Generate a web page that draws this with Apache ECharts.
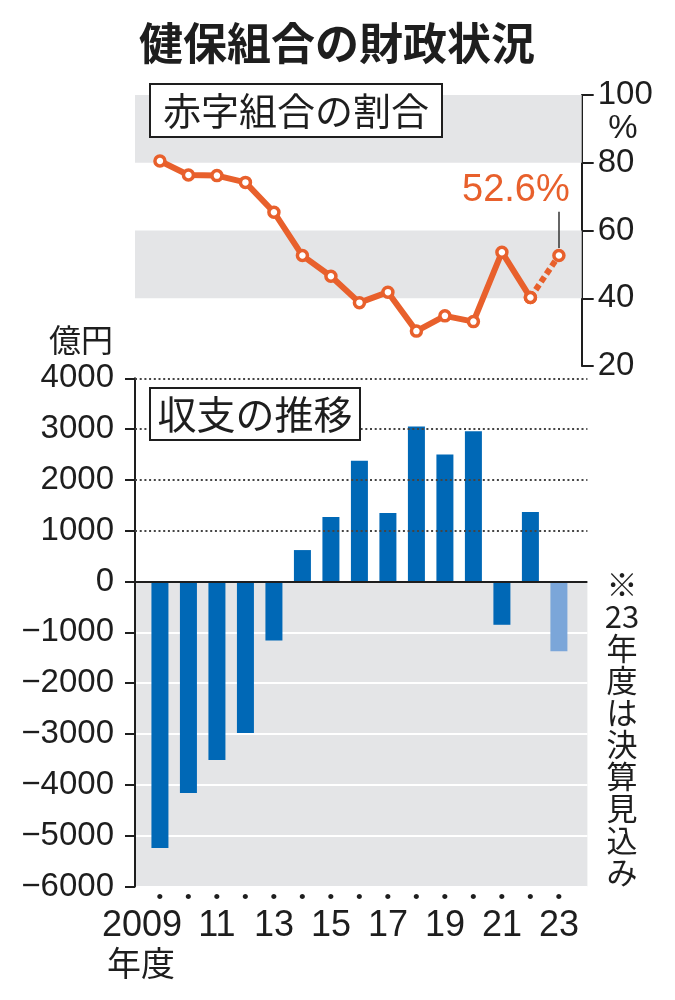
<!DOCTYPE html>
<html>
<head>
<meta charset="utf-8">
<script src="https://cdn.jsdelivr.net/npm/echarts@6/dist/echarts.min.js"></script>
<style>
html,body{margin:0;padding:0;background:#fff;}
#chart{width:675px;height:1000px;}
</style>
</head>
<body>
<div id="chart"></div>
<script>
// ---- data ----
const years = [2009, 2010, 2011, 2012, 2013, 2014, 2015, 2016, 2017, 2018, 2019, 2020, 2021, 2022, 2023];
const deficitShare = [80.5, 76.4, 76.2, 74.2, 65.4, 52.6, 46.5, 38.7, 41.8, 30.3, 34.8, 33.1, 53.6, 40.2, 52.6]; // %
const balance = [-5240, -4160, -3510, -2980, -1160, 620, 1270, 2380, 1350, 3050, 2500, 2960, -850, 1370, -1370]; // 億円
const estimateYears = [2023];
const labeledYears = [2009, 2011, 2013, 2015, 2017, 2019, 2021, 2023];
const shareBands = [[80, 100], [40, 60]];
const balanceDottedLines = [1000, 2000, 3000, 4000];

const FONT_NUM = '"Liberation Sans", Arial, sans-serif';
const FONT_JP = '"Noto Sans CJK JP", sans-serif';
const ORANGE = '#e8602c';
const BLUE = '#0068b6';
const LIGHTBLUE = '#7ba6d9';
const GRAY = '#e4e5e7';
const INK = '#1e1e1e';

const n = years.length;
const solidPts = years.slice(0, n - 1).map((y, i) => [y, deficitShare[i]]);
const dashPts = years.slice(n - 2).map((y, i) => [y, deficitShare[n - 2 + i]]);
const lastYear = years[n - 1], lastShare = deficitShare[n - 1];

const barData = years.map((y, i) => ({
  value: [y, balance[i]],
  itemStyle: { color: estimateYears.includes(y) ? LIGHTBLUE : BLUE }
}));

const chart = echarts.init(document.getElementById('chart'), null, { renderer: 'canvas' });

const option = {
  animation: false,
  backgroundColor: '#fff',
  grid: [
    { left: 135, right: 93.3, top: 95, height: 271 },
    { left: 135, right: 87.6, top: 378.3, height: 508.2 }
  ],
  xAxis: [
    { gridIndex: 0, type: 'value', min: 2008.125, max: 2023.8, show: false },
    {
      gridIndex: 1, type: 'value', min: 2008.125, max: 2024, interval: 0.125,
      axisLine: { show: false }, axisTick: { show: false }, splitLine: { show: false },
      axisLabel: {
        margin: 1,
        formatter: function (v) {
          const y = Math.round(v);
          if (Math.abs(v - y) > 1e-6 || !years.includes(y)) return '';
          if (!labeledYears.includes(y)) return '{d|•}';
          if (y === years[0]) return '{d|•}\n{f|' + y + '}';
          return '{d|•}\n{n|' + String(y % 100).padStart(2, '0') + '}';
        },
        rich: {
          d: { fontSize: 19, lineHeight: 21, color: INK, fontFamily: FONT_NUM },
          n: { fontSize: 36, lineHeight: 36, color: INK, fontFamily: FONT_NUM },
          f: { fontSize: 36, lineHeight: 36, color: INK, fontFamily: FONT_NUM, padding: [0, 36, 0, 0] }
        }
      }
    }
  ],
  yAxis: [
    {
      gridIndex: 0, type: 'value', position: 'right', min: 20, max: 100, interval: 20,
      axisLine: { show: true, lineStyle: { color: INK, width: 2 } },
      axisTick: { show: true, length: 12, lineStyle: { color: INK, width: 2 } },
      axisLabel: { margin: 16, fontSize: 33, color: INK, fontFamily: FONT_NUM },
      splitLine: { show: false }
    },
    {
      gridIndex: 1, type: 'value', position: 'left', min: -6000, max: 4000, interval: 1000,
      axisLine: { show: true, lineStyle: { color: INK, width: 2 } },
      axisTick: { show: true, length: 10, lineStyle: { color: INK, width: 2 } },
      axisLabel: {
        margin: 21, fontSize: 33, color: INK, fontFamily: FONT_NUM,
        formatter: v => String(v).replace('-', '\u2212')
      },
      splitLine: { show: true, lineStyle: { color: '#ffffff', width: 2 } },
      splitArea: { show: true, areaStyle: { color: [GRAY, GRAY, GRAY, GRAY, GRAY, GRAY, '#ffffff', '#ffffff', '#ffffff', '#ffffff'] } }
    }
  ],
  series: [
    // background bands (top)
    {
      type: 'line', xAxisIndex: 0, yAxisIndex: 0, z: 1, data: [], silent: true,
      markArea: {
        silent: true,
        itemStyle: { color: GRAY },
        data: shareBands.map(b => [{ yAxis: b[0] }, { yAxis: b[1] }])
      }
    },
    {
      name: 'share', type: 'line', xAxisIndex: 0, yAxisIndex: 0, z: 3,
      data: solidPts,
      lineStyle: { color: ORANGE, width: 6 },
      symbol: 'circle', symbolSize: 10,
      itemStyle: { color: '#fff', borderColor: ORANGE, borderWidth: 3.5 }
    },
    {
      name: 'shareEst', type: 'line', xAxisIndex: 0, yAxisIndex: 0, z: 3,
      data: dashPts.map((p, i) => i === dashPts.length - 1 ? {
        value: p,
        label: {
          show: true, position: 'top', offset: [-43, -34],
          formatter: pp => pp.value[1].toFixed(1) + '%',
          fontSize: 38, color: ORANGE, fontFamily: FONT_NUM
        }
      } : { value: p }),
      lineStyle: { color: ORANGE, width: 6, type: [6, 3.5] },
      symbol: 'circle', symbolSize: 10,
      itemStyle: { color: '#fff', borderColor: ORANGE, borderWidth: 3.5 },
      markLine: {
        silent: true, symbol: 'none', label: { show: false },
        lineStyle: { color: '#333', width: 1.5, type: 'solid' },
        data: [[{ coord: [lastYear, lastShare + 2.2] }, { coord: [lastYear, lastShare + 12.9] }]]
      }
    },
    // dotted guide lines (bottom, positive side)
    {
      type: 'line', xAxisIndex: 1, yAxisIndex: 1, z: 1, data: [], silent: true,
      markLine: {
        silent: true, symbol: 'none', label: { show: false },
        lineStyle: { color: '#444', width: 2, type: [2, 2.7] },
        data: balanceDottedLines.map(v => ({ yAxis: v }))
      }
    },
    {
      name: 'balance', type: 'bar', xAxisIndex: 1, yAxisIndex: 1, z: 2,
      barWidth: 17,
      data: barData,
      markLine: {
        silent: true, symbol: 'none', label: { show: false },
        lineStyle: { color: INK, width: 2, type: 'solid' },
        data: [{ yAxis: 0 }]
      }
    }
  ],
  graphic: [
    {
      type: 'text', z: 10,
      style: { text: '健保組合の財政状況', x: 337, y: 43, font: 'bold 44px "Noto Sans CJK JP", sans-serif',
        fill: INK, align: 'center', verticalAlign: 'middle', textAlign: 'center', textVerticalAlign: 'middle' }
    },
    {
      type: 'rect', z: 10,
      shape: { x: 150, y: 84, width: 292, height: 53 },
      style: { fill: '#fff', stroke: INK, lineWidth: 2 }
    },
    {
      type: 'text', z: 11,
      style: { text: '赤字組合の割合', x: 296, y: 111, font: '38px "Noto Sans CJK JP", sans-serif',
        fill: INK, align: 'center', verticalAlign: 'middle', textAlign: 'center', textVerticalAlign: 'middle' }
    },
    {
      type: 'rect', z: 10,
      shape: { x: 150, y: 388, width: 210, height: 52 },
      style: { fill: '#fff', stroke: INK, lineWidth: 2 }
    },
    {
      type: 'text', z: 11,
      style: { text: '収支の推移', x: 255, y: 414.5, font: '39px "Noto Sans CJK JP", sans-serif',
        fill: INK, align: 'center', verticalAlign: 'middle', textAlign: 'center', textVerticalAlign: 'middle' }
    },
    {
      type: 'text', z: 10,
      style: { text: '%', x: 623, y: 129, font: '33px "Liberation Sans", Arial, sans-serif',
        fill: INK, align: 'center', verticalAlign: 'middle', textAlign: 'center', textVerticalAlign: 'middle' }
    },
    {
      type: 'text', z: 10,
      style: { text: '億円', x: 81, y: 340, font: '32px "Noto Sans CJK JP", sans-serif',
        fill: INK, align: 'center', verticalAlign: 'middle', textAlign: 'center', textVerticalAlign: 'middle' }
    },
    {
      type: 'text', z: 10,
      style: { text: '年度', x: 141, y: 963, font: '34px "Noto Sans CJK JP", sans-serif',
        fill: INK, align: 'center', verticalAlign: 'middle', textAlign: 'center', textVerticalAlign: 'middle' }
    },
    {
      type: 'text', z: 10,
      style: { text: '※\n23\n年\n度\nは\n決\n算\n見\n込\nみ', x: 622, y: 568,
        font: '31px "Noto Sans CJK JP", sans-serif', lineHeight: 32,
        fill: INK, align: 'center', verticalAlign: 'top', textAlign: 'center', textVerticalAlign: 'top' }
    }
  ]
};
chart.setOption(option);
</script>
</body>
</html>
